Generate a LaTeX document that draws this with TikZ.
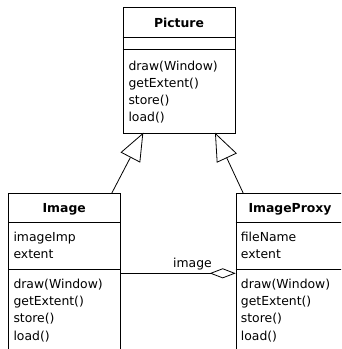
\documentclass[tikz,border=0pt]{standalone}
\usepackage{fontspec}
\setmainfont{DejaVu Sans}
\usetikzlibrary{arrows.meta}
\tikzset{
  classbox/.style={draw, line width=1pt, fill=white, anchor=north west, inner sep=0pt},
  txt/.style={anchor=base west, inner sep=0pt, font=\fontsize{12.4}{15}\selectfont},
  ttl/.style={anchor=base, inner sep=0pt, font=\fontsize{12.4}{15}\selectfont\bfseries},
  sep/.style={line width=1pt},
  gen/.style={line width=0.8pt, -{Triangle[open, length=28pt, width=22pt, line width=0.8pt, fill=white]}},
  agg/.style={line width=0.8pt, -{Diamond[open, length=26pt, width=10pt, line width=0.8pt, fill=white]}},
}
\begin{document}
\begin{tikzpicture}[x=1pt,y=-1pt]
\clip (0,0) rectangle (341,349);
\fill[white] (0,0) rectangle (341,349);
% Picture class
\node[classbox, minimum width=112.6pt, minimum height=125.4pt] (pic) at (122.7,7.3) {};
\draw[sep] (122.7,37.7) -- (235.3,37.7);
\draw[sep] (122.7,49.3) -- (235.3,49.3);
\node[ttl] (pictitle) at (179,27.7) {Picture};
\foreach \t [count=\i from 0] in {draw(Window), getExtent(), store(), load()}
  \node[txt, name=pm\i] at (128.3,70+17.3*\i) {\t};
% Image class
\node[classbox, minimum width=111.7pt, minimum height=170pt] (img) at (8.3,193.3) {};
\draw[sep] (8.3,222.7) -- (120,222.7);
\draw[sep] (8.3,269.3) -- (120,269.3);
\node[ttl] (imgtitle) at (64.2,212.3) {Image};
\node[txt] (ia0) at (13.3,241) {imageImp};
\node[txt] (ia1) at (13.3,258.3) {extent};
\foreach \t [count=\i from 0] in {draw(Window), getExtent(), store(), load()}
  \node[txt, name=im\i] at (13.3,288.3+17.3*\i) {\t};
% ImageProxy class
\node[classbox, minimum width=111.7pt, minimum height=170pt] (prx) at (235.7,193.3) {};
\draw[sep] (235.7,222.7) -- (350,222.7);
\draw[sep] (235.7,269.3) -- (350,269.3);
\node[ttl] (prxtitle) at (290,212.3) {ImageProxy};
\node[txt] (pa0) at (240.7,241) {fileName};
\node[txt] (pa1) at (240.7,258.3) {extent};
\foreach \t [count=\i from 0] in {draw(Window), getExtent(), store(), load()}
  \node[txt, name=pmx\i] at (240.7,288.3+17.3*\i) {\t};
% connector end points
\coordinate (imgtop) at (111.7,193.3);
\coordinate (pictipL) at (143.3,132.7);
\coordinate (prxtop) at (243.3,193.3);
\coordinate (pictipR) at (215,132.7);
\coordinate (imgright) at (120,273.3);
\coordinate (prxleft) at (235.7,273.3);
\draw[gen] (imgtop) -- (pictipL);
\draw[gen] (prxtop) -- (pictipR);
\draw[agg] (imgright) -- (prxleft);
\node[txt] (agglabel) at (173,267.3) {image};
\end{tikzpicture}
\end{document}
